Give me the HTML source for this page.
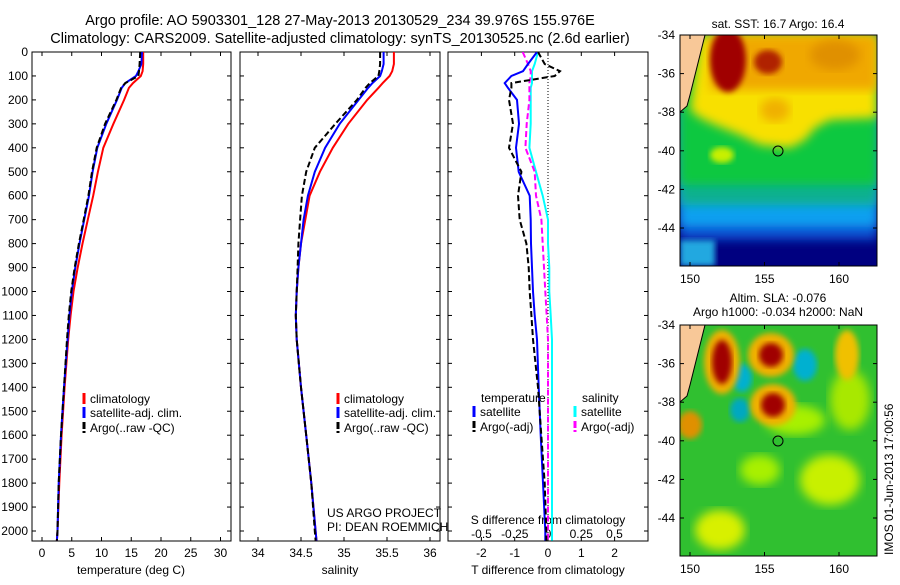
<!DOCTYPE html>
<html><head><meta charset="utf-8"><style>
body{margin:0;background:#fff}
svg text{font-family:"Liberation Sans",sans-serif;fill:#000}
</style></head><body>
<svg id="s" width="900" height="580" viewBox="0 0 900 580" xmlns="http://www.w3.org/2000/svg">
<defs>
<clipPath id="c1"><rect x="32" y="52" width="199" height="489"/></clipPath>
<clipPath id="c2"><rect x="240" y="52" width="200" height="489"/></clipPath>
<clipPath id="c3"><rect x="448" y="52" width="200" height="489"/></clipPath>
<clipPath id="m1"><rect x="680" y="35" width="197" height="231"/></clipPath>
<clipPath id="m2"><rect x="680" y="325" width="197" height="231"/></clipPath>
<filter id="bl"><feGaussianBlur stdDeviation="5"/></filter>
<filter id="bl2"><feGaussianBlur stdDeviation="3"/></filter>
</defs>
<text x="340" y="25" font-size="14.5" text-anchor="middle">Argo profile: AO 5903301_128 27-May-2013 20130529_234 39.976S 155.976E</text>
<text x="340" y="43" font-size="14.5" text-anchor="middle">Climatology: CARS2009. Satellite-adjusted climatology: synTS_20130525.nc (2.6d earlier)</text>

<!-- SST map -->
<g clip-path="url(#m1)">
<rect x="680" y="35" width="197" height="231" fill="#000080"/>
<rect x="680" y="35" width="197" height="205" fill="#1050d0" filter="url(#bl)"/>
<rect x="680" y="35" width="197" height="192" fill="#10a0f0" filter="url(#bl)"/>
<rect x="680" y="35" width="197" height="170" fill="#10b090" filter="url(#bl)"/>
<rect x="680" y="35" width="197" height="150" fill="#10c840" filter="url(#bl)"/>
<polygon points="700,35 877,35 877,118 830,120 815,128 805,140 790,148 760,145 740,135 715,125 700,118 690,110" fill="#f8e000" filter="url(#bl)"/>
<rect x="710" y="35" width="167" height="55" fill="#f0a800" filter="url(#bl)"/>
<ellipse cx="728" cy="60" rx="18" ry="32" fill="#a00000" filter="url(#bl2)"/>
<ellipse cx="768" cy="62" rx="14" ry="12" fill="#b02000" filter="url(#bl2)"/>
<ellipse cx="775" cy="110" rx="15" ry="12" fill="#f0b000" filter="url(#bl)"/>
<ellipse cx="722" cy="155" rx="12" ry="8" fill="#c8f000" filter="url(#bl2)"/>
<ellipse cx="835" cy="55" rx="25" ry="15" fill="#e09000" filter="url(#bl)"/>
<rect x="680" y="240" width="35" height="26" fill="#20a8e0" filter="url(#bl2)"/>
<polygon points="680,35 705,35 700,55 695,75 690,95 687,106 680,112" fill="#f8c898" stroke="#000" stroke-width="1"/>
</g>
<rect x="680" y="35" width="197" height="231" fill="none" stroke="#000"/>
<circle cx="778" cy="151" r="5" fill="none" stroke="#000"/>
<text x="778" y="28" font-size="12" text-anchor="middle">sat. SST: 16.7 Argo: 16.4</text>

<!-- SLA map -->
<g clip-path="url(#m2)">
<rect x="680" y="325" width="197" height="231" fill="#30c030"/>
<ellipse cx="830" cy="480" rx="30" ry="25" fill="#c8f000" filter="url(#bl)"/>
<ellipse cx="720" cy="530" rx="25" ry="20" fill="#d8f000" filter="url(#bl)"/>
<ellipse cx="795" cy="420" rx="30" ry="15" fill="#a8f000" filter="url(#bl)"/>
<ellipse cx="760" cy="470" rx="20" ry="15" fill="#a8f000" filter="url(#bl)"/>
<ellipse cx="850" cy="400" rx="20" ry="30" fill="#a8e800" filter="url(#bl)"/>
<ellipse cx="805" cy="365" rx="12" ry="16" fill="#00b0d0" filter="url(#bl2)"/>
<ellipse cx="740" cy="410" rx="10" ry="12" fill="#00a8c0" filter="url(#bl2)"/>
<ellipse cx="742" cy="378" rx="10" ry="14" fill="#00b0d0" filter="url(#bl2)"/>
<ellipse cx="722" cy="362" rx="18" ry="32" fill="#f0b000" filter="url(#bl2)"/>
<ellipse cx="722" cy="362" rx="10" ry="22" fill="#a00000" filter="url(#bl2)"/>
<ellipse cx="771" cy="355" rx="23" ry="22" fill="#f0b000" filter="url(#bl2)"/>
<ellipse cx="771" cy="355" rx="12" ry="12" fill="#a00000" filter="url(#bl2)"/>
<ellipse cx="773" cy="405" rx="23" ry="21" fill="#f0b000" filter="url(#bl2)"/>
<ellipse cx="773" cy="405" rx="12" ry="12" fill="#a00000" filter="url(#bl2)"/>
<ellipse cx="690" cy="425" rx="12" ry="14" fill="#e09000" filter="url(#bl2)"/>
<ellipse cx="847" cy="355" rx="12" ry="25" fill="#f0c000" filter="url(#bl2)"/>
<polygon points="680,325 705,325 700,345 695,365 690,385 687,396 680,402" fill="#f8c898" stroke="#000" stroke-width="1"/>
</g>
<rect x="680" y="325" width="197" height="231" fill="none" stroke="#000"/>
<circle cx="778" cy="441" r="5" fill="none" stroke="#000"/>
<text x="778" y="302" font-size="12" text-anchor="middle">Altim. SLA: -0.076</text>
<text x="778" y="316" font-size="12" text-anchor="middle">Argo h1000: -0.034 h2000: NaN</text>
<text transform="translate(893,555) rotate(-90)" font-size="12">IMOS 01-Jun-2013 17:00:56</text>
<g id="dyn"></g>
</svg>
<script>
const depthTicks=[0,100,200,300,400,500,600,700,800,900,1000,1100,1200,1300,1400,1500,1600,1700,1800,1900,2000];
const tempTicks=[0,5,10,15,20,25,30];
const salTicks=["34","34.5","35","35.5","36"];
const tdiffTicks=[-2,-1,0,1,2];
const sdiffTicks=["-0.5","-0.25","0","0.25","0.5"];
const latTicks=[-34,-36,-38,-40,-42,-44];
const lonTicks=[150,155,160];

const depths=[0,50,80,100,130,150,200,300,400,500,600,700,800,900,1000,1100,1200,1400,1600,1800,2000,2040];
const tempClim=[17.0,17.0,16.9,16.6,15.3,14.6,13.8,12.0,10.3,9.4,8.6,7.7,6.8,6.0,5.3,4.8,4.4,3.8,3.3,2.9,2.6,2.5];
const tempSat=[16.8,16.7,16.2,15.8,14.0,13.4,12.6,10.8,9.3,8.5,7.9,7.1,6.3,5.6,5.0,4.6,4.3,3.7,3.2,2.8,2.6,2.5];
const tempArgo=[16.5,16.4,16.3,16.2,14.0,13.3,12.5,10.6,9.2,8.4,7.8,7.0,6.2,5.5,4.9,4.5,4.2,3.7,3.2,2.8,2.6,2.5];
const salClim=[35.58,35.58,35.56,35.53,35.45,35.4,35.27,35.05,34.87,34.72,34.6,34.55,34.5,34.47,34.45,34.44,34.45,34.5,34.56,34.62,34.67,34.68];
const salSat=[35.46,35.46,35.44,35.42,35.33,35.28,35.17,34.95,34.78,34.66,34.58,34.53,34.5,34.47,34.45,34.44,34.45,34.5,34.56,34.62,34.67,34.68];
const salArgo=[35.42,35.42,35.41,35.4,35.3,35.25,35.15,34.9,34.66,34.56,34.51,34.49,34.47,34.46,34.45,34.44,34.45,34.5,34.56,34.62,34.66,34.67];
const tdiffSat=[-0.33,-0.6,-0.75,-1.1,-1.3,-1.2,-0.93,-0.87,-0.96,-0.88,-0.55,-0.52,-0.51,-0.48,-0.45,-0.4,-0.33,-0.28,-0.22,-0.15,-0.08,-0.08];
const tdiffArgo=[-0.3,-0.1,0.36,0.2,-1.1,-1.1,-1.17,-1.05,-1.17,-0.8,-0.9,-0.85,-0.65,-0.58,-0.55,-0.5,-0.45,-0.3,-0.2,-0.1,-0.05,-0.05];
const sdiffSat=[-0.075,-0.1,-0.12,-0.12,-0.12,-0.13,-0.13,-0.13,-0.14,-0.09,-0.04,0.0,0.0,0.01,0.01,0.02,0.03,0.03,0.03,0.03,0.03,0.03];
const sdiffArgo=[-0.19,-0.15,-0.13,-0.13,-0.14,-0.14,-0.14,-0.16,-0.17,-0.1,-0.09,-0.05,-0.04,-0.03,-0.02,-0.01,0.0,0.0,0.0,0.0,0.0,0.0];

const NS='http://www.w3.org/2000/svg';
const g=document.getElementById('dyn');
function mk(t,a,p){const e=document.createElementNS(NS,t);for(const k in a)e.setAttribute(k,a[k]);(p||g).appendChild(e);return e;}
const Y=d=>52+d*0.2395;
const X1=v=>42+v*5.95;
const X2=v=>258+(v-34)*86;
const XT=v=>548+v*33.3;
const XS=v=>548+v*133;
const LY1=l=>35+(-34-l)*19.3;
const LY2=l=>325+(-34-l)*19.3;
const LX=l=>690+(l-150)*14.9;

const panels=[[32,199,'temperature-panel'],[240,200,'salinity-panel'],[448,200,'difference-panel']];
panels.forEach(([x,w,n])=>{
  const r=mk('rect',{x:x,y:52,width:w,height:489,fill:'none',stroke:'#000'});
  
  
  depthTicks.forEach(d=>{
    mk('line',{x1:x,x2:x+4,y1:Y(d),y2:Y(d),stroke:'#000'});
    mk('line',{x1:x+w,x2:x+w-4,y1:Y(d),y2:Y(d),stroke:'#000'});
  });
});
depthTicks.forEach(d=>{
  const t=mk('text',{x:28,y:Y(d)+4,'font-size':12,'text-anchor':'end'});
  
  
  t.textContent=d;
});
tempTicks.forEach(v=>{
  mk('line',{x1:X1(v),x2:X1(v),y1:541,y2:537,stroke:'#000'});
  mk('line',{x1:X1(v),x2:X1(v),y1:52,y2:56,stroke:'#000'});
  const t=mk('text',{x:X1(v),y:557,'font-size':12,'text-anchor':'middle'});
  
  
  t.textContent=v;
});
salTicks.forEach(v=>{
  const x=X2(parseFloat(v));
  mk('line',{x1:x,x2:x,y1:541,y2:537,stroke:'#000'});
  mk('line',{x1:x,x2:x,y1:52,y2:56,stroke:'#000'});
  const t=mk('text',{x:x,y:557,'font-size':12,'text-anchor':'middle'});
  
  
  t.textContent=v;
});
tdiffTicks.forEach(v=>{
  mk('line',{x1:XT(v),x2:XT(v),y1:541,y2:537,stroke:'#000'});
  mk('line',{x1:XT(v),x2:XT(v),y1:52,y2:56,stroke:'#000'});
  const t=mk('text',{x:XT(v),y:557,'font-size':12,'text-anchor':'middle'});
  
  
  t.textContent=v;
});
sdiffTicks.forEach(v=>{
  const t=mk('text',{x:XS(parseFloat(v)),y:538,'font-size':12,'text-anchor':'middle'});
  
  
  t.textContent=v;
});
[['temperature (deg C)',131],['salinity',340],['T difference from climatology',548]].forEach(([s,x])=>{
  const t=mk('text',{x:x,y:574,'font-size':12,'text-anchor':'middle'});
  
  
  t.textContent=s;
});
const st=mk('text',{x:548,y:524,'font-size':12,'text-anchor':'middle'});


st.textContent='S difference from climatology';
mk('line',{x1:548,x2:548,y1:52,y2:541,stroke:'#000','stroke-dasharray':'1,2'});

function line(xs,vals,fx,col,dash,clip,name){
  const pts=vals.map((v,i)=>fx(v).toFixed(1)+','+Y(xs[i]).toFixed(1)).join(' ');
  const p=mk('polyline',{points:pts,fill:'none',stroke:col,'stroke-width':2,'clip-path':'url(#'+clip+')'});
  if(dash)p.setAttribute('stroke-dasharray',dash);
  
  
}
line(depths,tempClim,X1,'#f00',null,'c1','temp-climatology-line');
line(depths,tempSat,X1,'#00f',null,'c1','temp-satellite-line');
line(depths,tempArgo,X1,'#000','6,3','c1','temp-argo-line');
line(depths,salClim,X2,'#f00',null,'c2','salinity-climatology-line');
line(depths,salSat,X2,'#00f',null,'c2','salinity-satellite-line');
line(depths,salArgo,X2,'#000','6,3','c2','salinity-argo-line');
line(depths,sdiffSat,XS,'#0ff',null,'c3','sdiff-satellite-line');
line(depths,sdiffArgo,XS,'#f0f','6,3','c3','sdiff-argo-line');
line(depths,tdiffSat,XT,'#00f',null,'c3','tdiff-satellite-line');
line(depths,tdiffArgo,XT,'#000','6,3','c3','tdiff-argo-line');

function leg(x,y,col,label,dash){
  const l=mk('line',{x1:x,x2:x,y1:y-10,y2:y+1,stroke:col,'stroke-width':3});
  if(dash)l.setAttribute('stroke-dasharray','7,2');
  const t=mk('text',{x:x+6,y:y,'font-size':12});
  
  
  t.textContent=label;
}
[84,338].forEach(x=>{
  leg(x,403,'#f00','climatology');
  leg(x,417,'#00f','satellite-adj. clim.');
  leg(x,432,'#000','Argo(..raw -QC)',1);
});
let tt=mk('text',{x:481,y:402,'font-size':12});tt.textContent='temperature';


tt=mk('text',{x:582,y:402,'font-size':12});tt.textContent='salinity';


leg(474,416,'#00f','satellite');
leg(474,431,'#000','Argo(-adj)',1);
leg(575,416,'#0ff','satellite');
leg(575,431,'#f0f','Argo(-adj)',1);
tt=mk('text',{x:327,y:517,'font-size':12});tt.textContent='US ARGO PROJECT';


tt=mk('text',{x:327,y:531,'font-size':12});tt.textContent='PI: DEAN ROEMMICH';



[[LY1,266],[LY2,556]].forEach(([fy,bot])=>{
  latTicks.forEach(l=>{
    const y=fy(l);
    mk('line',{x1:680,x2:684,y1:y,y2:y,stroke:'#000'});
    mk('line',{x1:877,x2:873,y1:y,y2:y,stroke:'#000'});
    const t=mk('text',{x:675,y:y+4,'font-size':12,'text-anchor':'end'});
    
    
    t.textContent=l;
  });
  lonTicks.forEach(l=>{
    const x=LX(l);
    mk('line',{x1:x,x2:x,y1:bot,y2:bot-4,stroke:'#000'});
    mk('line',{x1:x,x2:x,y1:bot-231,y2:bot-227,stroke:'#000'});
    const t=mk('text',{x:x,y:bot+17,'font-size':12,'text-anchor':'middle'});
    
    
    t.textContent=l;
  });
});
</script>
</body></html>
